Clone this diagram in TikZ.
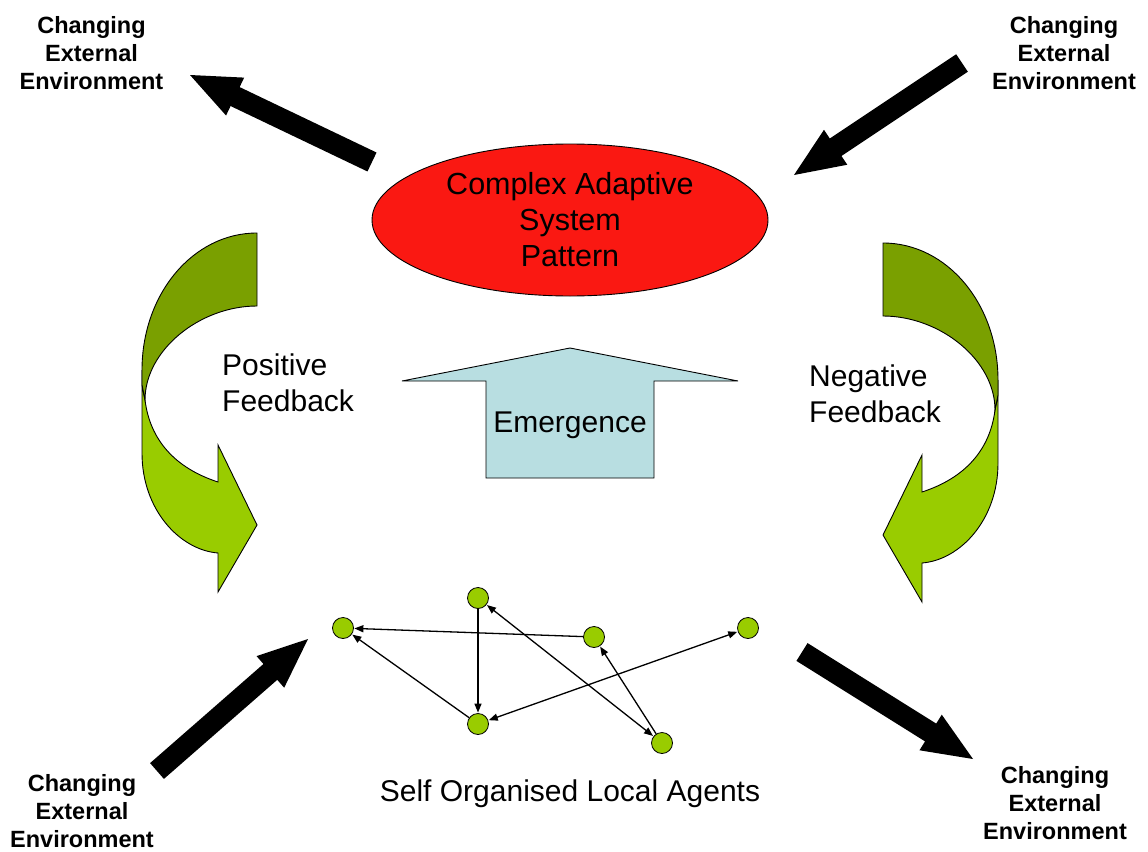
\documentclass[tikz,border=0pt]{standalone}
\usepackage{fontspec}
\setmainfont{Liberation Sans}
\usetikzlibrary{shapes.geometric,arrows.meta,calc}
\definecolor{casred}{RGB}{250,24,18}
\definecolor{emblue}{RGB}{184,222,225}
\definecolor{darkgreen}{RGB}{122,160,0}
\definecolor{lightgreen}{RGB}{153,204,0}
\tikzset{
  envlabel/.style={font=\fontsize{23.5}{28}\selectfont\bfseries, align=center, inner sep=0pt},
  bodytext/.style={font=\fontsize{30}{36}\selectfont, inner sep=0pt},
  agent/.style={circle, minimum size=21pt, inner sep=0pt, fill=lightgreen, draw=black, line width=0.8pt},
  link/.style={line width=1.3pt, -{Triangle[length=9pt,width=7pt]}, shorten >=0.5pt},
  linkboth/.style={line width=1.3pt, {Triangle[length=9pt,width=7pt]}-{Triangle[length=9pt,width=7pt]}, shorten >=0.5pt, shorten <=0.5pt},
  outlinebody/.style={draw=black, line width=0.9pt, line join=miter}
}
\newcommand\blackarrow[3]{%
  \coordinate (#3-b) at ($(#2)!50pt!(#1)$);
  \fill[black] ($(#1)!10.5pt!90:(#2)$) -- ($(#3-b)!10.5pt!90:(#2)$) -- ($(#3-b)!21pt!90:(#2)$) -- (#2)
    -- ($(#3-b)!21pt!-90:(#2)$) -- ($(#3-b)!10.5pt!-90:(#2)$) -- ($(#1)!10.5pt!-90:(#2)$) -- cycle;}
\newcommand\curvedarrow{%
  \filldraw[outlinebody, fill=lightgreen] (142,370) -- (142,453) .. controls (142,510) and (180,550) .. (218,553)
    -- (218,592) -- (257,525) -- (218,445) -- (218,482) .. controls (175,468) and (150,440) .. (145,400)
    -- (142,385) -- cycle;
  \filldraw[outlinebody, fill=darkgreen] (257,233) .. controls (193,233) and (142,294) .. (142,370)
    -- (142,385) -- (145,400) .. controls (145,350) and (200,306) .. (257,306) -- cycle;}
\begin{document}
\begin{tikzpicture}[x=1pt, y=-1pt]
\useasboundingbox (0,0) rectangle (1148,851);

% curved feedback arrows
\curvedarrow
\begin{scope}[xshift=1140pt, yshift=-10pt, xscale=-1]
  \curvedarrow
\end{scope}

% ellipse
\node[ellipse, minimum width=396pt, minimum height=152pt, inner sep=0pt, fill=casred, draw=black, line width=0.9pt,
      font=\fontsize{30.5}{36}\selectfont, align=center] (cas) at (570,220) {Complex Adaptive\\System\\Pattern};

% emergence arrow
\filldraw[outlinebody, fill=emblue] (570,348) -- (738,381) -- (654,381) -- (654,478) -- (486,478) -- (486,381) -- (402,381) -- cycle;
\node[bodytext] (emerg) at (570,425) {Emergence};

% labels
\node[bodytext, anchor=west, align=left] (pos) at (222,383) {Positive\\Feedback};
\node[bodytext, anchor=west, align=left] (neg) at (809,394) {Negative\\Feedback};
\node[bodytext] (agents) at (570,794) {Self Organised Local Agents};

\node[envlabel] (envtl) at (91.5,53) {Changing\\External\\Environment};
\node[envlabel] (envtr) at (1064,53) {Changing\\External\\Environment};
\node[envlabel] (envbl) at (82,811) {Changing\\External\\Environment};
\node[envlabel] (envbr) at (1055,803) {Changing\\External\\Environment};

% big black arrows
\coordinate (tlT) at (372,162); \coordinate (tlP) at (190,75);
\coordinate (trT) at (962,63);  \coordinate (trP) at (794,175);
\coordinate (blT) at (157,771); \coordinate (blP) at (308,639);
\coordinate (brT) at (802,652); \coordinate (brP) at (973,759);
\blackarrow{tlT}{tlP}{tl}
\blackarrow{trT}{trP}{tr}
\blackarrow{blT}{blP}{bl}
\blackarrow{brT}{brP}{br}

% agents
\node[agent] (a1) at (343,628) {};
\node[agent] (a2) at (478,598) {};
\node[agent] (a3) at (594,637) {};
\node[agent] (a4) at (748,628) {};
\node[agent] (a5) at (478,724) {};
\node[agent] (a6) at (662,743) {};
\draw[link] (a3) -- (a1);
\draw[link] (a5) -- (a1);
\draw[link] (a2) -- (a5);
\draw[linkboth] (a2) -- (a6);
\draw[linkboth] (a5) -- (a4);
\draw[link] (a6) -- (a3);
\end{tikzpicture}
\end{document}
